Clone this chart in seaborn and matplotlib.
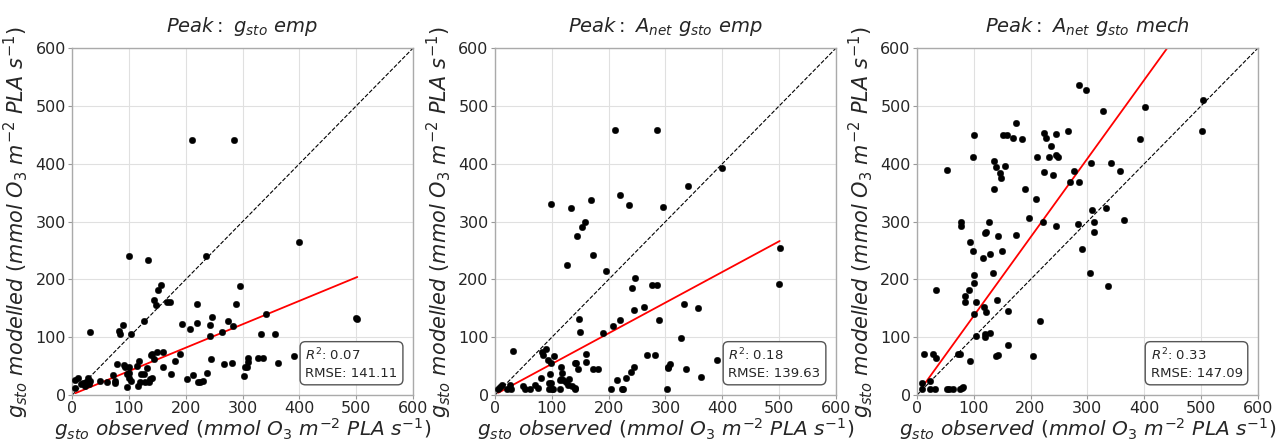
import numpy as np
import pandas as pd
import seaborn as sns
import matplotlib.pyplot as plt

# ---------------- data ----------------
titles = [r"$Peak:\ g_{sto}\ emp$",
          r"$Peak:\ A_{net}\ g_{sto}\ emp$",
          r"$Peak:\ A_{net}\ g_{sto}\ mech$"]

obs_1 = [211, 285, 399, 100, 134, 235, 295, 157, 152, 145, 148, 167, 173, 126, 89, 82, 84, 32, 103, 220,
         289, 194, 220, 207, 246, 242, 275, 283, 264, 242, 342, 332, 357, 500, 502, 390, 363, 327, 336, 309,
         309, 305, 308, 302, 281, 267, 245, 238, 231, 226, 222, 213, 203, 190, 182, 174, 160, 160, 149, 145,
         139, 141, 132, 117, 114, 122, 126, 138, 141, 135, 128, 120, 116, 97, 100, 103, 97, 100, 94, 100,
         91, 79, 72, 75, 75, 62, 50, 28, 32, 20, 23, 10, 6, 6, 15, 25, 30]
mod_1 = [441, 441, 264, 240, 234, 241, 188, 190, 182, 164, 156, 161, 161, 129, 121, 111, 105, 109, 106, 157,
         157, 123, 124, 114, 136, 122, 128, 120, 109, 102, 140, 106, 106, 133, 131, 68, 55, 65, 65, 65,
         58, 49, 49, 33, 55, 53, 62, 38, 25, 22, 22, 34, 28, 72, 59, 37, 49, 74, 75, 62,
         70, 72, 47, 59, 51, 37, 37, 28, 29, 22, 22, 22, 16, 14, 29, 25, 36, 39, 49, 49,
         52, 53, 34, 25, 21, 22, 25, 30, 25, 21, 16, 30, 26, 13, 20, 22, 20]

obs_2 = [211, 285, 400, 340, 220, 169, 236, 99, 134, 295, 158, 153, 144, 173, 126, 195, 246, 242, 276, 285,
         501, 499, 332, 357, 263, 244, 148, 220, 289, 208, 150, 190, 327, 89, 82, 84, 31, 104, 93, 99,
         160, 160, 140, 143, 146, 173, 182, 267, 281, 391, 308, 305, 304, 336, 363, 245, 239, 230, 214, 204,
         223, 226, 303, 117, 118, 116, 114, 119, 97, 95, 99, 81, 125, 131, 128, 135, 141, 140, 114, 100,
         103, 95, 76, 70, 62, 52, 50, 26, 29, 21, 9, 12, 6]
mod_2 = [459, 458, 392, 361, 346, 337, 329, 330, 324, 326, 299, 291, 275, 243, 225, 214, 202, 186, 190, 191,
         255, 193, 158, 150, 152, 148, 132, 130, 130, 120, 109, 107, 99, 80, 75, 70, 77, 67, 60, 55,
         71, 57, 56, 55, 46, 46, 46, 70, 70, 60, 53, 48, 47, 45, 32, 48, 40, 30, 26, 11,
         11, 11, 11, 49, 39, 28, 27, 26, 36, 21, 21, 29, 22, 28, 17, 16, 13, 11, 11, 11,
         11, 11, 13, 18, 11, 11, 16, 18, 11, 11, 14, 18, 11]

obs_3 = [286, 297, 503, 401, 328, 501, 175, 101, 151, 158, 170, 185, 223, 244, 266, 228, 236, 392, 99, 212,
         232, 245, 248, 135, 140, 155, 53, 147, 148, 223, 239, 276, 306, 342, 358, 270, 286, 135, 191, 209,
         197, 222, 244, 284, 308, 333, 311, 365, 311, 291, 305, 337, 77, 77, 127, 119, 122, 142, 175, 94,
         99, 150, 128, 117, 134, 100, 100, 91, 84, 84, 33, 104, 118, 121, 141, 100, 161, 216, 104, 120,
         128, 120, 161, 140, 143, 205, 94, 72, 75, 13, 28, 34, 9, 23, 9, 23, 31, 53, 57, 63,
         75, 79, 82]
mod_3 = [537, 527, 510, 499, 491, 456, 471, 449, 449, 449, 445, 443, 453, 452, 456, 445, 431, 443, 412, 412,
         412, 416, 411, 405, 395, 397, 390, 385, 375, 386, 381, 388, 401, 402, 388, 369, 369, 356, 356, 340,
         306, 299, 293, 296, 320, 323, 299, 303, 282, 253, 212, 189, 299, 293, 299, 280, 282, 276, 277, 265,
         250, 250, 244, 238, 211, 208, 194, 181, 172, 161, 181, 161, 152, 144, 164, 141, 145, 128, 103, 100,
         107, 106, 86, 67, 69, 68, 59, 72, 72, 72, 72, 64, 21, 25, 11, 11, 11, 11, 11, 11,
         11, 13, 14]

observed = [obs_1, obs_2, obs_3]
modelled = [mod_1, mod_2, mod_3]

fit_slope = [0.405, 0.53, 1.36]
fit_intercept = [1.0, 1.0, 1.0]
r2_values = ["0.07", "0.18", "0.33"]
rmse_values = ["141.11", "139.63", "147.09"]

axis_ticks = [0, 100, 200, 300, 400, 500, 600]

xlabel = r"$g_{sto}\ observed\ (mmol\ O_3\ m^{-2}\ PLA\ s^{-1})$"
ylabel = r"$g_{sto}\ modelled\ (mmol\ O_3\ m^{-2}\ PLA\ s^{-1})$"

# ---------------- style ----------------
sns.set_theme(style="whitegrid")
plt.rcParams['font.family'] = ['DejaVu Sans']
plt.rcParams['mathtext.fontset'] = 'dejavusans'

fig = plt.figure(figsize=(12.77, 4.42), dpi=100)
lefts = [0.0564, 0.3876, 0.718]
bottom, width, height = 0.106, 0.267, 0.785

for i in range(3):
    ax = fig.add_axes([lefts[i], bottom, width, height])
    df = pd.DataFrame({"obs": observed[i], "mod": modelled[i]})
    # 1:1 line
    lim = pd.DataFrame({"x": [axis_ticks[0], axis_ticks[-1]], "y": [axis_ticks[0], axis_ticks[-1]]})
    sns.lineplot(data=lim, x="x", y="y", ax=ax, color="black", linestyle="--", linewidth=0.8)
    # fitted line
    xs = np.array([df["obs"].min(), df["obs"].max()])
    fit = pd.DataFrame({"x": xs, "y": fit_slope[i] * xs + fit_intercept[i]})
    sns.lineplot(data=fit, x="x", y="y", ax=ax, color="red", linewidth=1.3)
    sns.scatterplot(data=df, x="obs", y="mod", ax=ax, color="black", s=22,
                    edgecolor="black", linewidth=0.3, zorder=3)

    ax.set_xlim(axis_ticks[0], axis_ticks[-1])
    ax.set_ylim(axis_ticks[0], axis_ticks[-1])
    ax.set_xticks(axis_ticks)
    ax.set_yticks(axis_ticks)
    ax.tick_params(labelsize=11.5, length=3, width=0.8, color="#999999", pad=1.5,
                   bottom=True, left=True)
    ax.grid(True, color="#e0e0e0", linewidth=0.8)
    for sp in ax.spines.values():
        sp.set_color("#aaaaaa")
        sp.set_linewidth(1.0)

    ax.set_title(titles[i], fontsize=14, pad=12)
    ax.set_xlabel(xlabel, fontsize=14.5, labelpad=0)
    ax.set_ylabel(ylabel, fontsize=15, labelpad=3)

    ax.text(0.955, 0.045, r"$R^2$: " + r2_values[i] + "\nRMSE: " + rmse_values[i],
            transform=ax.transAxes, ha="right", va="bottom", fontsize=9.5,
            multialignment="left", linespacing=1.3,
            bbox=dict(boxstyle="round,pad=0.4", fc="white", ec="#555555", lw=1.0))

fig.savefig("out.png", dpi=100)
